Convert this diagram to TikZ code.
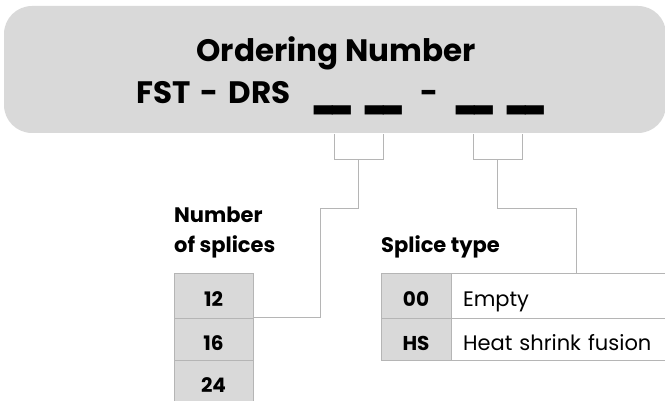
\documentclass[tikz,border=0pt]{standalone}
\usepackage{fontspec}
\setmainfont{Poppins}
\usetikzlibrary{positioning}

\definecolor{panel}{HTML}{D9D9D9}
\definecolor{wiregray}{HTML}{B5B5B5}

%% one blank of the ordering code
\newcommand\slotbar{\scalebox{1}[1.8]{\_\kern-6pt\_}}

\tikzset{
  titlebox/.style={fill=panel, rounded corners=28pt, minimum width=662pt,
    minimum height=127pt, inner sep=0pt},
  headfont/.style={font=\bfseries\fontsize{31}{33}\selectfont, inner sep=0pt},
  lblfont/.style={font=\bfseries\fontsize{21}{30.5}\selectfont, inner sep=0pt},
  cell/.style={draw=wiregray, fill=panel, outer sep=0pt, inner sep=0pt,
    minimum height=42pt, text height=23pt, text depth=0pt,
    font=\bfseries\fontsize{20}{22}\selectfont},
  desc/.style={draw=wiregray, fill=white, outer sep=0pt, inner xsep=12pt,
    inner ysep=0pt, minimum height=42pt, text height=23pt, text depth=0pt,
    text width=195pt, align=left, font=\fontsize{21}{23}\selectfont},
  wire/.style={draw=wiregray, line width=1pt},
}

\begin{document}
\begin{tikzpicture}[x=1pt,y=-1pt]
  \useasboundingbox (0,0) rectangle (665,401);

  %% Ordering number panel
  \node[titlebox] (title) at (335,69.5) {};
  \node[headfont, anchor=base] (heading) at (336,62) {Ordering Number};
  \node[headfont, anchor=base east] (code) at (291,104) {FST\hspace{0.33em}-\hspace{0.33em}DRS};
  \node[headfont, anchor=base] (slotA) at (358,104) {\slotbar\hspace{9pt}\slotbar};
  \node[headfont, anchor=base] (sep) at (429,104) {-};
  \node[headfont, anchor=base] (slotB) at (500,104) {\slotbar\hspace{9pt}\slotbar};

  %% Number of splices
  \node[lblfont, anchor=base west, align=left] (numlbl) at (174,253) {Number\\of splices};
  \node[cell, minimum width=79pt, minimum height=45pt] (n12) at (213.5,295.5) {12};
  \node[cell, minimum width=79pt, below=0pt of n12] (n16) {16};
  \node[cell, minimum width=79pt, below=0pt of n16] (n24) {24};

  %% Splice type
  \node[lblfont, anchor=base west] (typelbl) at (381,253) {Splice type};
  \node[cell, minimum width=70pt, minimum height=45pt] (t00) at (416,295.5) {00};
  \node[cell, minimum width=70pt, below=0pt of t00] (tHS) {HS};
  \node[desc, minimum height=45pt, right=0pt of t00] (d00) {Empty};
  \node[desc, right=0pt of tHS] (dHS) {Heat shrink fusion};

  %% Brackets and leaders
  \coordinate (brA) at (358.5,160);
  \coordinate (brB) at (497.5,160);
  \coordinate (bendA) at (320,209);
  \coordinate (bendB) at (576,209);
  \draw[wire] (brA) ++(-24.5,-26) -- ++(0,26) -- ++(49,0) -- ++(0,-26);
  \draw[wire] (brB) ++(-24.5,-26) -- ++(0,26) -- ++(49,0) -- ++(0,-26);
  \draw[wire] (brA) |- (bendA) |- (n12.south east);
  \draw[wire] (brB) |- (bendB) -- (bendB |- d00.north);
\end{tikzpicture}
\end{document}
